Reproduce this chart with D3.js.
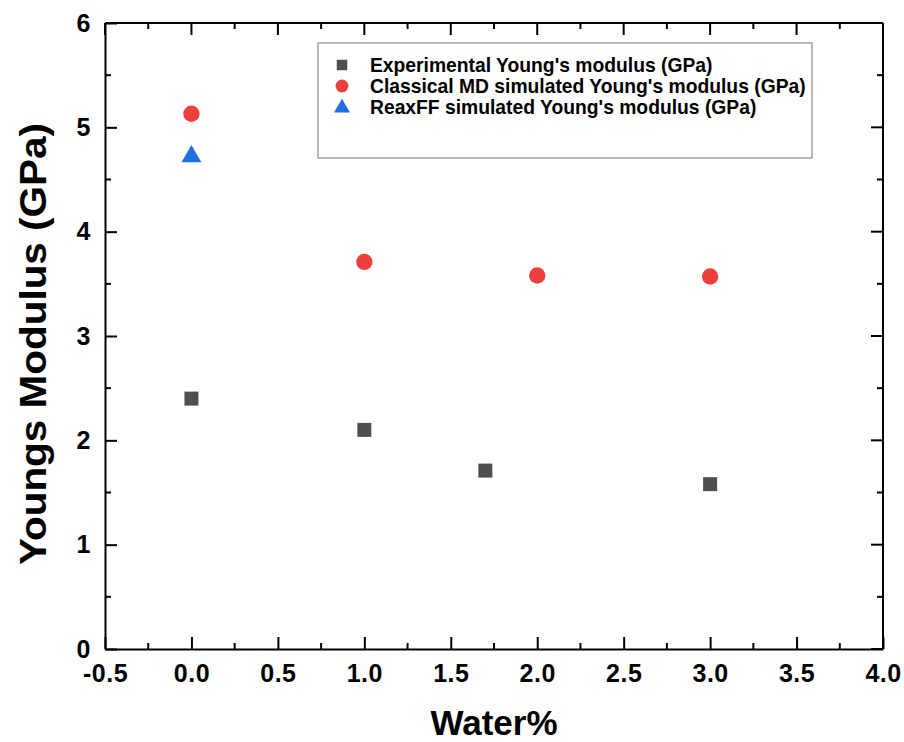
<!DOCTYPE html>
<html>
<head>
<meta charset="utf-8">
<script src="https://cdn.jsdelivr.net/npm/d3@7"></script>
<style>
  body { margin: 0; background: #fff; }
  text { font-family: "Liberation Sans", Arial, sans-serif; font-weight: bold; fill: #000; }
</style>
</head>
<body>
<div id="chart"></div>
<script>
// DATA
const expWater = [0, 1, 1.7, 3];
const expModulus = [2.40, 2.10, 1.71, 1.58];
const mdWater = [0, 1, 2, 3];
const mdModulus = [5.13, 3.71, 3.58, 3.57];
const reaxWater = [0];
const reaxModulus = [4.73];
const xTicks = [-0.5, 0, 0.5, 1, 1.5, 2, 2.5, 3, 3.5, 4];
const yTicks = [0, 1, 2, 3, 4, 5, 6];
const legendLabels = [
  "Experimental Young's modulus (GPa)",
  "Classical MD simulated Young's modulus (GPa)",
  "ReaxFF simulated Young's modulus (GPa)"
];

// CONSTANTS
const width = 904;
const height = 742;
const margin = { top: 23, right: 21, bottom: 93, left: 105 };
const innerW = width - margin.left - margin.right;
const innerH = height - margin.top - margin.bottom;

const svg = d3.select("#chart").append("svg")
  .attr("width", width)
  .attr("height", height);

const g = svg.append("g")
  .attr("transform", `translate(${margin.left},${margin.top})`);

// SCALES
const xScale = d3.scaleLinear().domain([-0.5, 4]).range([0, innerW]);
const yScale = d3.scaleLinear().domain([0, 6]).range([innerH, 0]);

const xMinor = d3.range(-0.25, 4, 0.5);
const yMinor = d3.range(0.5, 6, 1);

// AXES (ticks pointing inward, mirrored on top/right)
const xAxis = d3.axisBottom(xScale).tickValues(xTicks).tickFormat(d => d.toFixed(1))
  .tickSizeInner(-12).tickSizeOuter(0).tickPadding(15);
const yAxis = d3.axisLeft(yScale).tickValues(yTicks).tickFormat(d => String(d))
  .tickSizeInner(-12).tickSizeOuter(0).tickPadding(14);

const xAxisGroup = g.append("g")
  .attr("transform", `translate(0,${innerH})`)
  .call(xAxis);
const yAxisGroup = g.append("g").call(yAxis);

[xAxisGroup, yAxisGroup].forEach(a => {
  a.attr("font-size", null).attr("font-family", null);
  a.selectAll("text").style("font-size", "25px").style("font-family", "Liberation Sans, Arial, sans-serif")
    .style("font-weight", "bold").style("letter-spacing", "0.5px");
  a.select(".domain").attr("stroke", "#000").attr("stroke-width", 2);
  a.selectAll(".tick line").attr("stroke", "#000").attr("stroke-width", 2);
});

// minor ticks, top and right mirrors
const tickLayer = g.append("g").attr("stroke", "#000").attr("stroke-width", 2);
xMinor.forEach(v => {
  tickLayer.append("line").attr("x1", xScale(v)).attr("x2", xScale(v)).attr("y1", innerH).attr("y2", innerH - 6);
  tickLayer.append("line").attr("x1", xScale(v)).attr("x2", xScale(v)).attr("y1", 0).attr("y2", 6);
});
xTicks.forEach(v => {
  tickLayer.append("line").attr("x1", xScale(v)).attr("x2", xScale(v)).attr("y1", 0).attr("y2", 12);
});
yMinor.forEach(v => {
  tickLayer.append("line").attr("x1", 0).attr("x2", 6).attr("y1", yScale(v)).attr("y2", yScale(v));
  tickLayer.append("line").attr("x1", innerW).attr("x2", innerW - 6).attr("y1", yScale(v)).attr("y2", yScale(v));
});
yTicks.forEach(v => {
  tickLayer.append("line").attr("x1", innerW).attr("x2", innerW - 12).attr("y1", yScale(v)).attr("y2", yScale(v));
});
tickLayer.append("line").attr("x1", 0).attr("x2", innerW).attr("y1", 0).attr("y2", 0);
tickLayer.append("line").attr("x1", innerW).attr("x2", innerW).attr("y1", 0).attr("y2", innerH);

// AXIS TITLES
svg.append("text")
  .attr("x", margin.left + xScale(1.75))
  .attr("y", 735)
  .attr("text-anchor", "middle")
  .style("font-size", "35px")
  .text("Water%");

svg.append("text")
  .attr("transform", `translate(46,${344}) rotate(-90)`)
  .attr("text-anchor", "middle")
  .attr("textLength", 442)
  .attr("lengthAdjust", "spacingAndGlyphs")
  .style("font-size", "36px")
  .text("Youngs Modulus (GPa)");

// SYMBOLS
const squareSym = d3.symbol().type(d3.symbolSquare).size(196);
const circleSym = d3.symbol().type(d3.symbolCircle).size(210);
const triSym = d3.symbol().type(d3.symbolTriangle).size(170);

const colors = ["#4f4f4f", "#ef3e3e", "#1f6fe0"];

g.selectAll(".exp").data(expWater.map((w, i) => ({ w, m: expModulus[i] })))
  .join("path").attr("class", "exp")
  .attr("d", squareSym)
  .attr("fill", colors[0])
  .attr("transform", d => `translate(${xScale(d.w)},${yScale(d.m)})`);

g.selectAll(".md").data(mdWater.map((w, i) => ({ w, m: mdModulus[i] })))
  .join("path").attr("class", "md")
  .attr("d", circleSym)
  .attr("fill", colors[1])
  .attr("transform", d => `translate(${xScale(d.w)},${yScale(d.m)})`);

g.selectAll(".reax").data(reaxWater.map((w, i) => ({ w, m: reaxModulus[i] })))
  .join("path").attr("class", "reax")
  .attr("d", triSym)
  .attr("fill", colors[2])
  .attr("transform", d => `translate(${xScale(d.w)},${yScale(d.m) + 1})`);

// LEGEND
const legend = svg.append("g").attr("transform", "translate(318,43)");
legend.append("rect")
  .attr("width", 494).attr("height", 115)
  .attr("fill", "#fff").attr("stroke", "#888").attr("stroke-width", 1.2);

const legendSyms = [d3.symbol().type(d3.symbolSquare).size(110), d3.symbol().type(d3.symbolCircle).size(130), d3.symbol().type(d3.symbolTriangle).size(110)];
legendLabels.forEach((label, i) => {
  const yy = 22 + i * 21;
  legend.append("path")
    .attr("d", legendSyms[i])
    .attr("fill", colors[i])
    .attr("transform", `translate(24,${yy + (i === 2 ? 1 : 0)})`);
  legend.append("text")
    .attr("x", 52).attr("y", yy + 7)
    .style("font-size", "19.3px")
    .text(label);
});
</script>
</body>
</html>
